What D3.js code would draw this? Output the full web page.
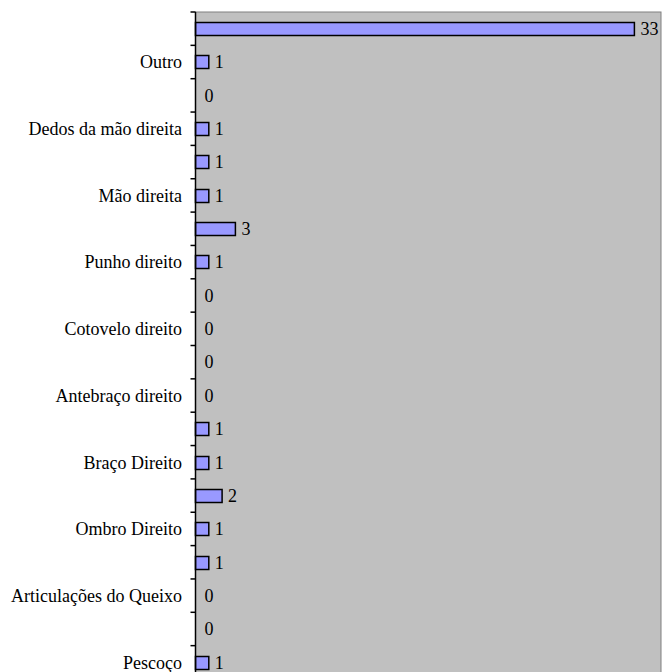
<!DOCTYPE html>
<html>
<head>
<meta charset="utf-8">
<script src="https://cdn.jsdelivr.net/npm/d3@7"></script>
<style>
  html, body { margin: 0; padding: 0; background: #ffffff; }
  svg { display: block; }
</style>
</head>
<body>
<svg id="chart" width="663" height="672"></svg>
<script>
// Categories from top to bottom (empty = label not shown in the original)
const categories = ["", "Outro", "", "Dedos da mão direita", "", "Mão direita", "", "Punho direito", "",
  "Cotovelo direito", "", "Antebraço direito", "", "Braço Direito", "", "Ombro Direito", "",
  "Articulações do Queixo", "", "Pescoço"];
const values = [33, 1, 0, 1, 1, 1, 3, 1, 0, 0, 0, 0, 1, 1, 2, 1, 1, 0, 0, 1];
const xMax = 35;

(function () {
const svg = d3.select("#chart");
const pLeft = 195.5, pRight = 661, pTop = 12, pBottom = 679;
const font = "'Liberation Serif', 'Times New Roman', serif";

const x = d3.scaleLinear().domain([0, xMax]).range([pLeft, pRight]);
const idx = d3.range(categories.length);
const y = d3.scaleBand().domain(idx).range([pTop, pBottom]).paddingInner(0.6).paddingOuter(0.3);

// plot background
svg.append("rect")
  .attr("x", pLeft).attr("y", pTop)
  .attr("width", pRight - pLeft).attr("height", pBottom - pTop)
  .attr("fill", "#c0c0c0")
  .attr("stroke", "#808080").attr("stroke-width", 1);

// bars
svg.append("g").selectAll("rect")
  .data(idx.filter(i => values[i] > 0))
  .join("rect")
  .attr("x", x(0))
  .attr("y", i => Math.round(y(i)) + 0.5)
  .attr("width", i => x(values[i]) - x(0))
  .attr("height", Math.round(y.bandwidth()))
  .attr("fill", "#9999ff")
  .attr("stroke", "#000")
  .attr("stroke-width", 1.5);

// value labels
svg.append("g").selectAll("text")
  .data(idx)
  .join("text")
  .attr("x", i => x(values[i]) + (values[i] > 0 ? 6 : 9))
  .attr("y", i => y(i) + y.bandwidth() / 2)
  .attr("dy", "0.35em")
  .attr("font-family", font)
  .attr("font-size", 18)
  .attr("fill", "#000")
  .text(i => values[i]);

// axis line
svg.append("line")
  .attr("x1", pLeft).attr("x2", pLeft)
  .attr("y1", pTop).attr("y2", pBottom)
  .attr("stroke", "#000").attr("stroke-width", 1.5);

// ticks at category boundaries
const bounds = d3.range(categories.length + 1).map(k => pTop + k * (pBottom - pTop) / categories.length);
svg.append("g").selectAll("line")
  .data(bounds)
  .join("line")
  .attr("x1", pLeft - 5).attr("x2", pLeft)
  .attr("y1", d => d).attr("y2", d => d)
  .attr("stroke", "#000").attr("stroke-width", 1.5);

// category labels
svg.append("g").selectAll("text")
  .data(idx.filter(i => categories[i] !== ""))
  .join("text")
  .attr("x", 182)
  .attr("y", i => y(i) + y.bandwidth() / 2)
  .attr("dy", "0.35em")
  .attr("text-anchor", "end")
  .attr("font-family", font)
  .attr("font-size", 18)
  .attr("fill", "#000")
  .text(i => categories[i]);
})();
</script>
</body>
</html>
